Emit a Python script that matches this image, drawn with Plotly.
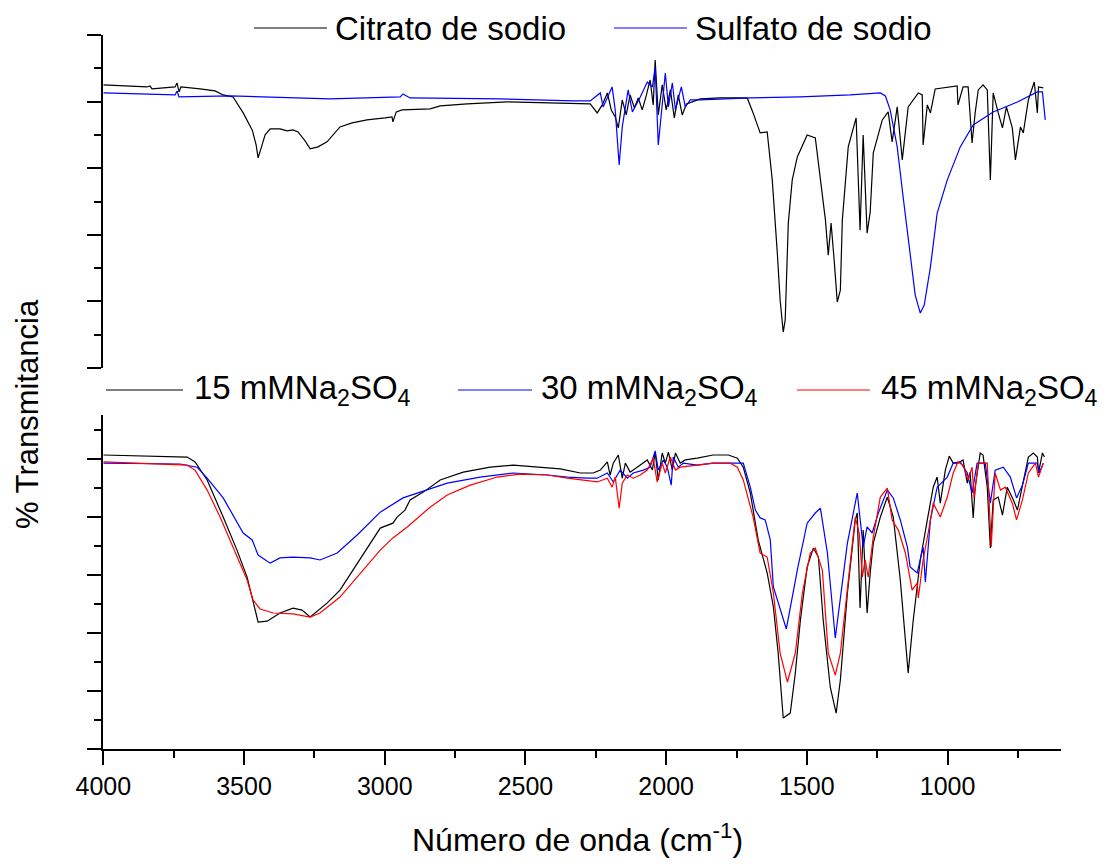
import plotly.graph_objects as go

W, H = 1109, 866
OFF = 8  # page body margin of the browser

# ---------------- data ----------------
# Top panel: Citrato de sodio
wn_citrato = [4000, 3923, 3845, 3834, 3827, 3745, 3738, 3731, 3724, 3656, 3603, 3574, 3539, 3503,
              3471, 3457, 3450, 3439, 3425, 3407, 3372, 3347, 3326, 3308, 3283, 3265, 3237, 3205,
              3159, 3116, 3063, 2999, 2974, 2971, 2959, 2938, 2839, 2803, 2707, 2565, 2412, 2330,
              2270, 2245, 2227, 2209, 2195, 2181, 2170, 2156, 2142, 2128, 2113, 2099, 2085, 2071,
              2057, 2046, 2039, 2028, 2014, 2000, 1985, 1971, 1957, 1943, 1928, 1907, 1879, 1808,
              1712, 1691, 1666, 1641, 1623, 1605, 1595, 1584, 1577, 1566, 1552, 1534, 1499, 1470,
              1452, 1434, 1424, 1414, 1403, 1392, 1381, 1374, 1353, 1325, 1311, 1300, 1286, 1275,
              1264, 1232, 1211, 1197, 1179, 1161, 1140, 1104, 1090, 1087, 1072, 1061, 1044, 966,
              963, 945, 927, 913, 902, 891, 874, 859, 848, 838, 820, 805, 791, 770, 759, 741, 731,
              713, 692, 681, 677, 660]
t_citrato = [85.0, 84.7, 84.4, 84.7, 83.8, 84.4, 85.6, 82.9, 84.4, 83.8, 83.2, 82.0, 81.4, 76.6,
             71.5, 67.0, 63.1, 66.1, 70.0, 71.8, 71.8, 71.2, 71.5, 70.9, 68.2, 65.8, 66.4, 67.9,
             72.4, 73.6, 74.5, 75.1, 75.4, 73.9, 76.9, 77.5, 77.8, 78.7, 79.3, 79.9, 79.6, 79.6,
             79.3, 76.6, 79.0, 82.6, 77.5, 75.4, 72.1, 80.5, 76.0, 82.0, 78.1, 81.1, 77.5, 81.7,
             86.5, 79.0, 92.5, 76.0, 85.0, 77.5, 83.5, 75.1, 82.0, 76.0, 79.3, 79.9, 80.8, 81.1,
             81.1, 76.6, 70.6, 70.9, 56.5, 34.5, 20.4, 10.8, 14.4, 43.5, 56.5, 63.4, 70.0, 69.1,
             56.5, 44.4, 33.9, 43.5, 32.4, 19.8, 23.4, 44.4, 66.4, 75.1, 41.4, 70.0, 40.5, 46.8,
             64.6, 74.5, 76.9, 67.9, 78.4, 62.5, 78.4, 82.6, 82.0, 67.0, 79.0, 76.6, 83.8, 84.7,
             79.0, 84.4, 84.4, 67.6, 76.6, 83.5, 85.0, 83.5, 56.5, 82.6, 76.6, 72.1, 78.4, 72.1,
             62.5, 72.4, 70.6, 80.5, 85.9, 76.6, 84.4, 84.1]

# Top panel: Sulfato de sodio
wn_sulfato = [4000, 3834, 3745, 3738, 3731, 3550, 3301, 3194, 2945, 2935, 2910, 2590, 2330, 2270,
              2234, 2224, 2192, 2181, 2167, 2156, 2135, 2120, 2092, 2067, 2049, 2039, 2028, 2014,
              2003, 1992, 1978, 1967, 1946, 1932, 1914, 1879, 1701, 1523, 1346, 1239, 1221, 1204,
              1179, 1158, 1133, 1115, 1097, 1083, 1061, 1037, 1001, 955, 909, 838, 752, 681, 663,
              653]
t_sulfato = [82.6, 82.3, 82.0, 83.2, 81.4, 81.7, 81.1, 80.8, 81.4, 82.3, 81.1, 80.8, 80.2, 80.2,
             82.6, 78.4, 84.4, 77.5, 61.0, 72.4, 83.5, 76.9, 81.4, 85.9, 84.4, 90.4, 67.0, 80.5,
             88.6, 78.4, 85.6, 77.5, 84.4, 78.4, 80.5, 80.5, 81.1, 81.4, 82.0, 82.6, 81.7, 77.5,
             66.4, 51.4, 33.3, 21.9, 16.5, 18.9, 30.3, 46.5, 56.5, 66.4, 73.0, 76.9, 79.9, 82.9,
             82.9, 74.5]

# Bottom panel: 15 mM Na2SO4
wn_15 = [4000, 3834, 3702, 3674, 3631, 3574, 3525, 3489, 3450, 3418, 3372, 3326, 3294, 3265, 3205,
         3159, 3098, 3016, 2971, 2956, 2928, 2910, 2863, 2803, 2721, 2625, 2543, 2447, 2376, 2305,
         2259, 2234, 2209, 2199, 2188, 2170, 2156, 2145, 2128, 2103, 2081, 2067, 2049, 2039, 2028,
         2014, 2003, 1992, 1978, 1967, 1950, 1932, 1890, 1833, 1779, 1747, 1726, 1701, 1673, 1641,
         1619, 1602, 1584, 1559, 1541, 1523, 1499, 1477, 1459, 1442, 1417, 1396, 1381, 1356, 1328,
         1321, 1311, 1300, 1286, 1275, 1264, 1239, 1214, 1193, 1168, 1150, 1140, 1122, 1097, 1072,
         1051, 1037, 1026, 1008, 994, 980, 963, 945, 930, 920, 909, 902, 884, 874, 859, 848, 838,
         820, 805, 788, 766, 752, 734, 713, 695, 681, 677, 663, 656]
t_15 = [101.4, 101.0, 100.7, 99.0, 92.8, 80.0, 68.6, 59.3, 43.8, 44.1, 46.9, 48.6, 47.9, 45.5, 50.3,
        54.8, 64.1, 76.2, 77.9, 80.0, 82.4, 85.9, 88.6, 92.8, 95.5, 97.2, 97.9, 97.2, 96.6, 95.2,
        95.2, 96.2, 99.0, 94.5, 98.6, 101.4, 93.4, 98.6, 95.5, 97.2, 98.6, 99.7, 96.2, 102.4, 92.8,
        102.1, 98.6, 102.4, 96.2, 102.1, 98.6, 99.7, 100.3, 101.4, 101.4, 100.3, 97.2, 88.3, 72.1,
        60.7, 49.0, 33.1, 10.7, 12.4, 26.2, 44.5, 62.8, 69.3, 66.2, 44.5, 21.4, 12.4, 23.8, 53.8,
        79.0, 81.4, 48.6, 75.5, 46.9, 60.7, 71.0, 80.0, 86.9, 80.0, 58.3, 38.6, 26.2, 44.5, 65.2,
        79.0, 90.3, 93.8, 84.8, 96.2, 101.0, 98.6, 98.6, 99.7, 91.7, 95.5, 79.7, 90.3, 102.1, 101.4,
        90.3, 69.3, 85.9, 86.9, 80.7, 90.3, 85.9, 82.4, 91.0, 100.7, 102.1, 100.7, 95.2, 102.1,
        100.7]

# Bottom panel: 30 mM Na2SO4
wn_30 = [4000, 3727, 3667, 3631, 3574, 3539, 3503, 3471, 3450, 3407, 3372, 3326, 3265, 3230, 3169,
         3098, 3016, 2935, 2849, 2778, 2661, 2543, 2422, 2351, 2281, 2245, 2209, 2188, 2163, 2138,
         2117, 2081, 2057, 2039, 2028, 2010, 1996, 1982, 1975, 1957, 1939, 1890, 1833, 1762, 1726,
         1701, 1683, 1666, 1648, 1630, 1619, 1573, 1534, 1499, 1470, 1452, 1427, 1399, 1381, 1356,
         1321, 1311, 1300, 1286, 1268, 1246, 1214, 1193, 1168, 1143, 1133, 1108, 1087, 1079, 1061,
         1037, 1001, 980, 955, 930, 913, 895, 866, 848, 831, 802, 777, 755, 734, 713, 681, 674, 660]
t_30 = [98.6, 98.3, 97.2, 93.4, 86.6, 80.7, 74.5, 72.1, 66.9, 64.1, 65.9, 66.2, 65.9, 65.2, 67.6,
        73.8, 81.7, 86.6, 89.3, 91.7, 93.8, 95.2, 94.5, 93.8, 93.4, 93.4, 95.2, 92.1, 96.2, 93.4,
        95.2, 96.2, 97.2, 102.8, 96.2, 99.7, 97.2, 91.0, 100.7, 97.2, 98.6, 97.9, 98.6, 98.6, 98.6,
        90.3, 82.4, 79.7, 79.0, 72.1, 55.9, 41.4, 61.7, 77.9, 81.4, 83.1, 67.6, 38.3, 51.4, 71.0,
        88.3, 79.0, 69.7, 76.6, 74.5, 81.4, 89.3, 86.6, 79.0, 69.7, 62.8, 60.7, 69.7, 57.6, 79.0,
        90.3, 93.8, 98.6, 99.0, 95.2, 88.3, 98.6, 98.6, 84.8, 96.2, 97.2, 93.8, 86.6, 91.0, 98.6,
        98.6, 95.2, 98.6]

# Bottom panel: 45 mM Na2SO4
wn_45 = [4000, 3702, 3674, 3631, 3585, 3525, 3489, 3468, 3443, 3396, 3326, 3265, 3230, 3159, 3077,
         3016, 2971, 2920, 2839, 2778, 2696, 2600, 2518, 2422, 2351, 2281, 2245, 2209, 2192, 2181,
         2167, 2156, 2138, 2117, 2092, 2067, 2046, 2032, 2014, 2003, 1985, 1967, 1950, 1890, 1833,
         1772, 1747, 1726, 1691, 1666, 1641, 1619, 1595, 1569, 1541, 1516, 1488, 1470, 1445, 1424,
         1399, 1381, 1356, 1328, 1314, 1303, 1293, 1282, 1264, 1239, 1214, 1197, 1175, 1150, 1126,
         1108, 1104, 1087, 1069, 1051, 1026, 1001, 980, 963, 945, 927, 913, 906, 891, 859, 845, 831,
         812, 795, 770, 755, 734, 713, 688, 677, 660]
t_45 = [99.0, 97.9, 96.2, 89.3, 80.0, 66.2, 58.3, 51.4, 48.3, 46.9, 46.6, 45.5, 46.9, 52.4, 61.7,
        68.6, 72.8, 76.6, 83.4, 87.6, 91.0, 93.8, 94.8, 94.5, 93.4, 92.4, 92.1, 93.4, 90.3, 93.8,
        83.1, 91.7, 94.5, 93.4, 94.5, 96.2, 100.3, 92.1, 98.6, 95.2, 100.7, 96.2, 97.2, 97.9, 98.6,
        98.6, 97.2, 92.8, 80.0, 67.6, 66.2, 53.8, 33.1, 23.1, 33.1, 53.8, 67.6, 69.3, 61.7, 33.1,
        25.5, 33.1, 55.9, 80.0, 74.5, 59.3, 65.2, 59.3, 73.1, 86.9, 90.0, 79.0, 75.5, 67.6, 54.8,
        57.2, 52.1, 65.2, 74.5, 84.8, 80.0, 86.9, 95.2, 99.0, 97.9, 92.8, 97.2, 86.6, 98.6, 98.6,
        69.7, 95.2, 89.3, 90.3, 84.8, 79.0, 85.9, 95.2, 98.6, 93.8, 98.6]

x_ticks = [4000, 3500, 3000, 2500, 2000, 1500, 1000]
x_ticktext = ["4000", "3500", "3000", "2500", "2000", "1500", "1000"]
x_range = [4000, 597]
top_range = [0, 100]
bottom_range = [0, 115.2]
y_ticks = [0, 20, 40, 60, 80, 100]

top_names = ["Citrato de sodio", "Sulfato de sodio"]
bottom_names = ["15 mMNa<sub>2</sub>SO<sub>4</sub>", "30 mMNa<sub>2</sub>SO<sub>4</sub>",
                "45 mMNa<sub>2</sub>SO<sub>4</sub>"]

FONT = "Arial, Liberation Sans, sans-serif"
LW = 1.2


def px(x):
    return (x - OFF) / W


def py(y):
    return 1 - (y - OFF) / H


fig = go.Figure()
fig.add_trace(go.Scatter(x=wn_citrato, y=t_citrato, mode="lines", line=dict(color="#000000", width=LW),
                         xaxis="x2", yaxis="y2", name=top_names[0], showlegend=False))
fig.add_trace(go.Scatter(x=wn_sulfato, y=t_sulfato, mode="lines", line=dict(color="#0000FF", width=LW),
                         xaxis="x2", yaxis="y2", name=top_names[1], showlegend=False))
fig.add_trace(go.Scatter(x=wn_15, y=t_15, mode="lines", line=dict(color="#000000", width=LW),
                         xaxis="x", yaxis="y", name="15 mM", showlegend=False))
fig.add_trace(go.Scatter(x=wn_30, y=t_30, mode="lines", line=dict(color="#0000FF", width=LW),
                         xaxis="x", yaxis="y", name="30 mM", showlegend=False))
fig.add_trace(go.Scatter(x=wn_45, y=t_45, mode="lines", line=dict(color="#FF0000", width=LW),
                         xaxis="x", yaxis="y", name="45 mM", showlegend=False))

xdom = [px(103.3), px(1061)]
axis_common = dict(showgrid=False, zeroline=False, showline=True, linewidth=2, linecolor="black",
                   ticks="outside", ticklen=14, tickwidth=2, tickcolor="black", automargin=False)

fig.update_layout(
    width=W, height=H, autosize=False,
    margin=dict(l=0, r=0, t=0, b=0, pad=0, autoexpand=False),
    paper_bgcolor="white", plot_bgcolor="white",
    font=dict(family=FONT, color="black"),
    showlegend=False,
    xaxis=dict(domain=xdom, range=x_range, anchor="y", tickmode="array", tickvals=x_ticks,
               ticktext=x_ticktext, tickfont=dict(size=25, family=FONT),
               minor=dict(tickmode="linear", tick0=0, dtick=250, ticks="outside", ticklen=7,
                          tickwidth=2, tickcolor="black"),
               **axis_common),
    xaxis2=dict(domain=xdom, range=x_range, anchor="y2", matches="x", visible=False,
                showticklabels=False, automargin=False),
    yaxis=dict(domain=[py(749), py(415)], range=bottom_range, anchor="x", tickmode="array",
               tickvals=y_ticks, showticklabels=False,
               minor=dict(tickmode="linear", tick0=0, dtick=10, ticks="outside", ticklen=7,
                          tickwidth=2, tickcolor="black"),
               **axis_common),
    yaxis2=dict(domain=[py(368), py(35)], range=top_range, anchor="x2", tickmode="array",
                tickvals=y_ticks, showticklabels=False,
                minor=dict(tickmode="linear", tick0=0, dtick=10, ticks="outside", ticklen=7,
                           tickwidth=2, tickcolor="black"),
                **axis_common),
)

# manual legends
shapes = []
annotations = []


def legend_item(x0, x1, xt, y, color, text):
    shapes.append(dict(type="line", xref="paper", yref="paper", x0=px(x0), x1=px(x1),
                       y0=py(y), y1=py(y), line=dict(color=color, width=LW)))
    annotations.append(dict(x=px(xt), y=py(y), xref="paper", yref="paper", text=text,
                            showarrow=False, xanchor="left", yanchor="middle",
                            font=dict(size=33, family=FONT, color="black")))


legend_item(254, 327, 333, 28, "#000000", top_names[0])
legend_item(614, 687, 693, 28, "#0000FF", top_names[1])
legend_item(106, 183, 192, 390, "#000000", bottom_names[0])
legend_item(458, 532, 539, 390, "#0000FF", bottom_names[1])
legend_item(797, 870, 879, 390, "#FF0000", bottom_names[2])

annotations.append(dict(x=px(577), y=py(838), xref="paper", yref="paper",
                        text="Número de onda (cm<sup>-1</sup>)", showarrow=False,
                        xanchor="center", yanchor="middle", font=dict(size=32, family=FONT)))
annotations.append(dict(x=px(28), y=py(414), xref="paper", yref="paper",
                        text="% Transmitancia", showarrow=False, textangle=-90,
                        xanchor="center", yanchor="middle", font=dict(size=31, family=FONT)))

fig.update_layout(shapes=shapes, annotations=annotations)

fig.write_html("out.html")
